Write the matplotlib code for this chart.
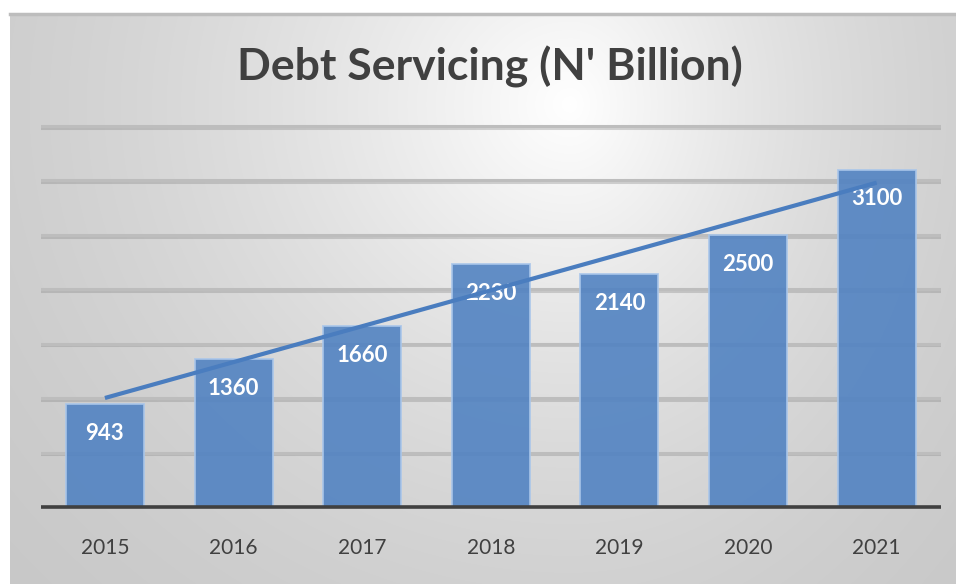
import numpy as np
import matplotlib
matplotlib.use("Agg")
import matplotlib.pyplot as plt
import matplotlib.patheffects as pe

plt.rcParams['font.family'] = ['Lato', 'DejaVu Sans']

# Data
years = ["2015", "2016", "2017", "2018", "2019", "2020", "2021"]
debt_service = [943, 1360, 1660, 2230, 2140, 2500, 3100]
grid_values = [500, 1000, 1500, 2000, 2500, 3000, 3500]
title = "Debt Servicing (N' Billion)"

W, H, DPI = 956, 584, 100
fig = plt.figure(figsize=(W / DPI, H / DPI), dpi=DPI, facecolor="white")

# Radial grey backdrop of the chart frame
bg = fig.add_axes([10 / W, 0, (W - 10) / W, (H - 14) / H], zorder=0)
bg.set_axis_off()
gy, gx = np.mgrid[0:570, 0:946]
cx, cy = 560.0, 90.0
sx = np.where(gx < cx, 600.0, 450.0)
sy = 560.0
r = np.sqrt(((gx - cx) / sx) ** 2 + ((gy - cy) / sy) ** 2)
v = (255 - 62 * np.tanh(r * 1.1)) / 255.0
img = np.dstack([v, v, v])
bg.imshow(img, aspect="auto", extent=[0, 1, 0, 1], origin="upper", interpolation="bilinear")
bg.set_xlim(0, 1)
bg.set_ylim(0, 1)
bg.axhline(1, color="#bdbdbd", lw=2.5, clip_on=False)

# Plot area
left, right = 40.6 / W, 941 / W
bottom = 77 / H
ymax = 3600
px_per_unit = 381 / 3500
ax = fig.add_axes([left, bottom, right - left, ymax * px_per_unit / H], zorder=1)
ax.patch.set_alpha(0)
for s in ax.spines.values():
    s.set_visible(False)

x = np.arange(len(years))
ax.set_xlim(-0.5, len(years) - 0.5)
ax.set_ylim(0, ymax)

for gv in grid_values:
    ax.axhline(gv, color="#bdbdbd", lw=2.2, zorder=1,
               path_effects=[pe.SimpleLineShadow(offset=(0, -1.2), shadow_color="#888888", alpha=0.35),
                             pe.Normal()])

bars = ax.bar(x, debt_service, width=0.606, color="#5283c2", alpha=0.9,
              edgecolor="#a9c6ea", linewidth=1.3, zorder=2)

ax.axhline(0, color="#404040", lw=2.6, zorder=3, clip_on=False, solid_capstyle="butt")

for xi, val in zip(x, debt_service):
    ax.annotate(f"{val}", xy=(xi, val), xytext=(0, -21), textcoords="offset points",
                ha="center", va="center", color="white", fontsize=16,
                fontweight="bold", zorder=4)

# Linear trendline
coef = np.polyfit(x, debt_service, 1)
tx = np.array([x[0], x[-1]])
ax.plot(tx, np.polyval(coef, tx), color="#4a7dbf", lw=3, zorder=5, solid_capstyle="butt")

ax.set_xticks(x)
ax.set_xticklabels(years, fontsize=15, color="#404040")
ax.tick_params(axis="x", length=0, pad=22)
ax.set_yticks([])

fig.text(490 / W, 1 - 80 / H, title, ha="center", va="baseline",
         fontsize=32, fontweight="bold", color="#404040")

fig.savefig("out.png", dpi=DPI, facecolor="white")
